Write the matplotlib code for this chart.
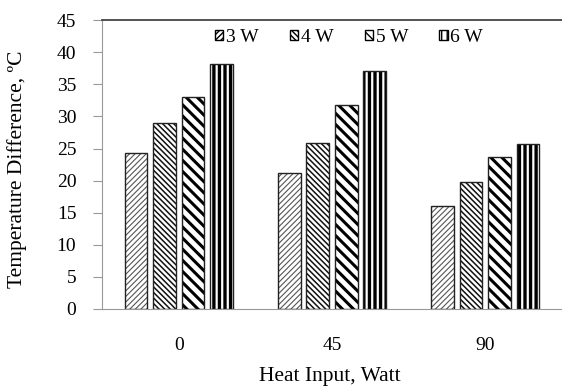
import numpy as np
import matplotlib
matplotlib.use("Agg")
import matplotlib.pyplot as plt

plt.rcParams['font.family'] = ['Liberation Serif', 'DejaVu Serif']

categories = ["0", "45", "90"]
series = ["3 W", "4 W", "5 W", "6 W"]
val_3w = [24.3, 21.2, 16.0]
val_4w = [29.0, 25.8, 19.8]
val_5w = [33.0, 31.8, 23.6]
val_6w = [38.2, 37.0, 25.7]
valores = [val_3w, val_4w, val_5w, val_6w]

hatches = ['//////', '\\\\\\\\\\\\', '\\\\\\', '|||']
hatch_cols = ['#555555', '#111111', 'black', 'black']
hatch_lw = [0.8, 1.1, 2.2, 2.4]

fig = plt.figure(figsize=(5.62, 3.87), dpi=100)
ax = fig.add_axes([0.1815, 0.2016, 0.8185, 0.7464])

x = np.arange(len(categories))
larg = 0.148
passo = 0.186
for i, (nome, vals) in enumerate(zip(series, valores)):
    pos = x + (i - 1.5) * passo
    barras = ax.bar(pos, vals, larg, facecolor='white', edgecolor=hatch_cols[i],
                    hatch=hatches[i], linewidth=1.0, label=nome)
    for b in barras:
        try:
            b.set_hatch_linewidth(hatch_lw[i])
        except AttributeError:
            pass
        b.set_edgecolor('#222222')
        b._hatch_color = matplotlib.colors.to_rgba(hatch_cols[i])

ax.set_xlim(-0.5, 2.5)
ax.set_ylim(0, 45)
ax.set_yticks(range(0, 46, 5))
ax.set_xticks(x)
ax.set_xticklabels(categories)
ax.tick_params(axis='x', length=0, labelsize=14, pad=20)
ax.tick_params(axis='y', length=6.5, color='#999999', labelsize=14, pad=12)
ax.spines['right'].set_visible(False)
ax.spines['left'].set_color('#999999')
ax.spines['bottom'].set_color('#999999')
ax.spines['top'].set_color('#444444')
ax.spines['top'].set_linewidth(1.3)

ax.set_xlabel('Heat Input, Watt', fontsize=15.5, va='top')
ax.xaxis.set_label_coords(0.496, -0.2)
ax.set_ylabel('Temperature Difference, ºC', fontsize=15.5)
ax.yaxis.set_label_coords(-0.163, 0.484)

leg = ax.legend(loc='center', bbox_to_anchor=(0.537, 0.941), ncol=4, frameon=False,
                fontsize=14, handlelength=0.42, handleheight=0.42, handletextpad=0.15,
                columnspacing=1.6, borderpad=0)
for h in leg.legend_handles:
    h.set_edgecolor('black')

fig.savefig('out.png', dpi=100)
